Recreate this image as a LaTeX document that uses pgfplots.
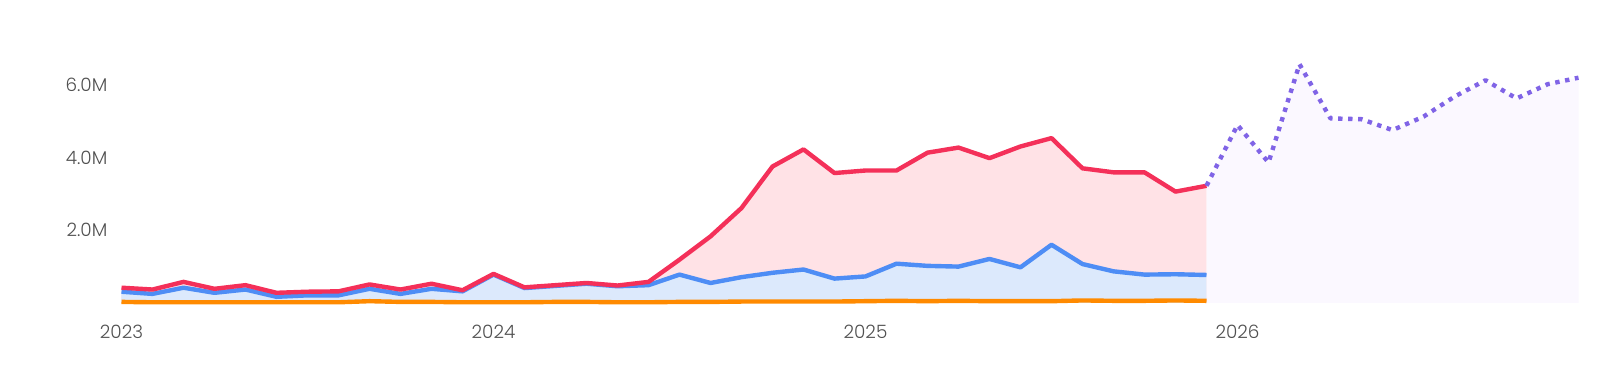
\documentclass[border=0pt]{standalone}
\usepackage{fontspec}
\setmainfont{Poppins}[UprightFont=* Light]
\usepackage{pgfplots}
\usepackage{pgfplotstable}
\pgfplotsset{compat=1.18}
\definecolor{redline}{HTML}{F43059}
\definecolor{redfill}{HTML}{FFE2E6}
\definecolor{blueline}{HTML}{4E8DF5}
\definecolor{bluefill}{HTML}{DCE9FC}
\definecolor{orangeline}{HTML}{FF8A00}
\definecolor{purpleline}{HTML}{8064E6}
\definecolor{purplefill}{HTML}{FBF8FF}
\definecolor{labelgray}{HTML}{505050}

\pgfplotstableread{
i red
0 0.42
1 0.37
2 0.58
3 0.39
4 0.49
5 0.28
6 0.31
7 0.32
8 0.51
9 0.37
10 0.53
11 0.35
12 0.80
13 0.43
14 0.49
15 0.55
16 0.48
17 0.58
18 1.19
19 1.83
20 2.61
21 3.75
22 4.22
23 3.57
24 3.64
25 3.64
26 4.13
27 4.27
28 3.98
29 4.30
30 4.53
31 3.70
32 3.59
33 3.59
34 3.06
35 3.22
}\redtable

\pgfplotstableread{
i blue
0 0.31
1 0.25
2 0.42
3 0.28
4 0.37
5 0.17
6 0.21
7 0.21
8 0.39
9 0.25
10 0.39
11 0.32
12 0.78
13 0.41
14 0.47
15 0.53
16 0.46
17 0.49
18 0.78
19 0.55
20 0.71
21 0.83
22 0.92
23 0.67
24 0.73
25 1.08
26 1.02
27 1.00
28 1.21
29 0.98
30 1.60
31 1.07
32 0.87
33 0.78
34 0.79
35 0.77
}\bluetable

\pgfplotstableread{
i orange
0 0.03
1 0.02
2 0.02
3 0.02
4 0.02
5 0.02
6 0.02
7 0.02
8 0.05
9 0.03
10 0.03
11 0.02
12 0.02
13 0.02
14 0.03
15 0.03
16 0.02
17 0.02
18 0.03
19 0.03
20 0.04
21 0.04
22 0.04
23 0.04
24 0.05
25 0.06
26 0.05
27 0.06
28 0.05
29 0.05
30 0.05
31 0.07
32 0.06
33 0.06
34 0.07
35 0.06
}\orangetable

\pgfplotstableread{
i forecast
35 3.22
36 4.89
37 3.86
38 6.56
39 5.07
40 5.05
41 4.75
42 5.12
43 5.67
44 6.12
45 5.62
46 6.01
47 6.19
}\forecasttable

\begin{document}
\begin{tikzpicture}
\path[use as bounding box] (-60.75pt,-43.5pt) rectangle (738.25pt,151.5pt);
\begin{axis}[
  scale only axis,
  width=728.5pt, height=136.5pt,
  xmin=0, xmax=47, ymin=0, ymax=7.5,
  clip=false,
  axis x line*=bottom, axis y line*=left,
  axis line style={draw=none},
  major tick length=0pt,
  tick style={draw=none},
  xtick={0,12,24,36},
  xticklabels={2023,2024,2025,2026},
  ytick={2,4,6},
  yticklabels={2.0M,4.0M,6.0M},
  tick label style={font=\fontsize{9.2}{10}\selectfont, text=labelgray},
  xticklabel style={anchor=north, inner sep=0pt, yshift=-11pt},
  yticklabel style={anchor=east, inner sep=0pt, xshift=-6.9pt},
]
\addplot[draw=none, fill=redfill] table[x=i, y=red] {\redtable} \closedcycle;
\addplot[draw=none, fill=bluefill] table[x=i, y=blue] {\bluetable} \closedcycle;
\addplot[draw=none, fill=purplefill] table[x=i, y=forecast] {\forecasttable} \closedcycle;
\addplot[orangeline, line width=2.2pt, line join=round] table[x=i, y=orange] {\orangetable};
\addplot[blueline, line width=2.2pt, line join=round] table[x=i, y=blue] {\bluetable};
\addplot[redline, line width=2.2pt, line join=round] table[x=i, y=red] {\redtable};
\addplot[purpleline, line width=2.2pt, dash pattern=on 2.2pt off 2.8pt, line join=round] table[x=i, y=forecast] {\forecasttable};
\end{axis}
\end{tikzpicture}
\end{document}
